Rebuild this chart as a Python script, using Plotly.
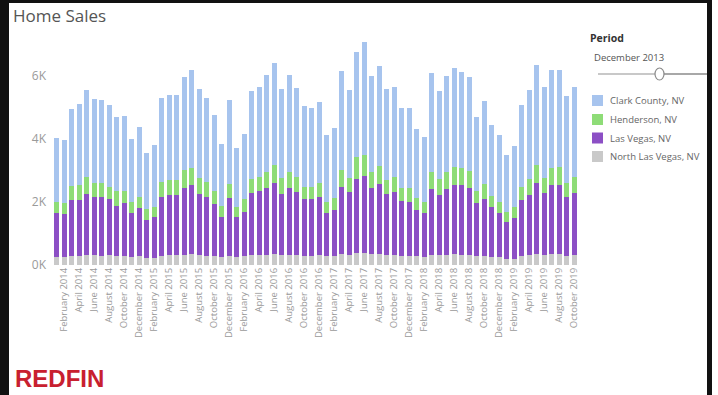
import pandas as pd
import plotly.graph_objects as go

# Monthly home sales, January 2014 - October 2019
months = pd.date_range("2014-01-01", "2019-10-01", freq="MS").strftime("%B %Y").tolist()

north_las_vegas = [250, 250, 300, 300, 320, 310, 300, 310, 280, 290, 260, 280,
                   220, 230, 300, 310, 320, 330, 340, 320, 300, 280, 250, 300,
                   250, 270, 310, 320, 330, 340, 320, 330, 310, 300, 290, 310,
                   270, 270, 360, 320, 380, 380, 340, 350, 310, 310, 280, 280,
                   270, 260, 330, 310, 330, 340, 330, 320, 270, 290, 240, 240,
                   200, 200, 280, 310, 340, 320, 340, 340, 300, 320]

las_vegas = [1410, 1370, 1760, 1760, 1930, 1860, 1850, 1780, 1600, 1670, 1400, 1520,
             1210, 1300, 1870, 1900, 1900, 2100, 2200, 1930, 1870, 1660, 1280, 1830,
             1260, 1420, 1970, 2020, 2100, 2250, 1930, 2100, 1990, 1790, 1800, 1840,
             1390, 1480, 2130, 1980, 2350, 2450, 2110, 2220, 1930, 2000, 1760, 1730,
             1480, 1400, 2080, 1910, 2090, 2200, 2210, 2110, 1690, 1800, 1610, 1420,
             1170, 1280, 1780, 1910, 2270, 1960, 2200, 2200, 1870, 1960]

henderson = [350, 350, 450, 480, 550, 440, 440, 400, 470, 400, 350, 370,
             340, 320, 470, 490, 480, 590, 530, 500, 470, 420, 340, 450,
             340, 400, 440, 460, 530, 580, 500, 530, 500, 400, 380, 440,
             350, 370, 530, 450, 710, 660, 510, 570, 460, 490, 390, 440,
             370, 350, 550, 500, 540, 570, 530, 560, 400, 480, 340, 350,
             320, 370, 410, 500, 560, 470, 530, 560, 420, 520]

clark_county = [2030, 2000, 2440, 2560, 2760, 2660, 2630, 2570, 2330, 2370, 1990, 2220,
                1780, 1950, 2650, 2690, 2690, 2930, 3100, 2830, 2650, 2400, 1970, 2650,
                1850, 2070, 2800, 2840, 3070, 3250, 2830, 3070, 2830, 2560, 2520, 2590,
                2110, 2210, 3120, 2810, 3330, 3570, 3050, 3160, 2880, 2860, 2560, 2540,
                2190, 2040, 3130, 2800, 3050, 3130, 3050, 2970, 2350, 2640, 2240, 2110,
                1800, 1910, 2610, 2840, 3180, 2910, 3120, 3090, 2780, 2840]

series_names = ["Clark County, NV", "Henderson, NV", "Las Vegas, NV", "North Las Vegas, NV"]
series_colors = ["#A7C4EE", "#8EDC77", "#8C4FC5", "#C9C9C9"]

y_tick_vals = [0, 2000, 4000, 6000]
y_tick_text = ["0K", "2K", "4K", "6K"]
x_tick_vals = months[1::2]

W, H = 718, 395
ML, MR, MT, MB = 53, 140, 38, 130
PW, PH = W - ML - MR, H - MT - MB


def px(x):
    return (x - ML) / PW


def py(y):
    return (H - MB - y) / PH


FONT = "Open Sans, Noto Sans, sans-serif"

fig = go.Figure()
# stacked from the bottom up
stack = [(series_names[3], north_las_vegas, series_colors[3]),
         (series_names[2], las_vegas, series_colors[2]),
         (series_names[1], henderson, series_colors[1]),
         (series_names[0], clark_county, series_colors[0])]
for name, vals, color in stack:
    fig.add_trace(go.Bar(x=months, y=vals, name=name,
                         marker=dict(color=color, line=dict(width=0)),
                         showlegend=False))

shapes = []
annotations = []

# frame
black = "#111111"
for x0, y0, x1, y1 in [(0, 0, 9, H), (0, 0, 712, 3), (707, 0, 712, H)]:
    shapes.append(dict(type="rect", xref="paper", yref="paper",
                       x0=px(x0), x1=px(x1), y0=py(y1), y1=py(y0),
                       fillcolor=black, line=dict(width=0), layer="above"))

# period slider
slider_y = 74
shapes.append(dict(type="line", xref="paper", yref="paper",
                   x0=px(598), x1=px(656), y0=py(slider_y), y1=py(slider_y),
                   line=dict(color="#C8C8C8", width=2)))
shapes.append(dict(type="line", xref="paper", yref="paper",
                   x0=px(663), x1=px(707), y0=py(slider_y), y1=py(slider_y),
                   line=dict(color="#A8A8A8", width=2)))
shapes.append(dict(type="circle", xref="paper", yref="paper",
                   x0=px(655), x1=px(664), y0=py(slider_y + 6), y1=py(slider_y - 6),
                   fillcolor="white", line=dict(color="#8A8A8A", width=1.2)))

# legend
legend_y = [100.5, 119.5, 138, 156.5]
for name, color, ly in zip(series_names, series_colors, legend_y):
    shapes.append(dict(type="rect", xref="paper", yref="paper",
                       x0=px(592), x1=px(603), y0=py(ly + 5.5), y1=py(ly - 5.5),
                       fillcolor=color, line=dict(width=0)))
    annotations.append(dict(text=name, xref="paper", yref="paper",
                            x=px(608), y=py(ly), xanchor="left", yanchor="middle",
                            showarrow=False, font=dict(family=FONT, size=9.5, color="#666666")))

annotations += [
    dict(text="Home Sales", xref="paper", yref="paper", x=px(11), y=py(16),
         xanchor="left", yanchor="middle", showarrow=False,
         font=dict(family=FONT, size=17, color="#555555")),
    dict(text="<b>Period</b>", xref="paper", yref="paper", x=px(588), y=py(38),
         xanchor="left", yanchor="middle", showarrow=False,
         font=dict(family=FONT, size=10.5, color="#333333")),
    dict(text="December 2013", xref="paper", yref="paper", x=px(592), y=py(57),
         xanchor="left", yanchor="middle", showarrow=False,
         font=dict(family=FONT, size=9.5, color="#555555")),
    dict(text="<b>REDFIN</b>", xref="paper", yref="paper", x=px(13), y=py(378),
         xanchor="left", yanchor="middle", showarrow=False,
         font=dict(family="Liberation Sans, Arial, sans-serif", size=24, color="#C8202F")),
]

fig.update_layout(
    width=W, height=H, autosize=False,
    margin=dict(l=ML, r=MR, t=MT, b=MB),
    paper_bgcolor="white", plot_bgcolor="white",
    barmode="stack", bargap=0.3,
    shapes=shapes, annotations=annotations,
    xaxis=dict(type="category", tickmode="array", tickvals=x_tick_vals, ticktext=x_tick_vals,
               tickangle=-90, showgrid=False, showline=False, zeroline=False, ticks="",
               tickfont=dict(family=FONT, size=9.5, color="#9A9A9A"),
               range=[-0.5, len(months) - 0.5]),
    yaxis=dict(range=[0, 7200], tickmode="array", tickvals=y_tick_vals, ticktext=y_tick_text,
               showgrid=False, showline=False, zeroline=False, ticks="",
               ticklabelstandoff=6,
               tickfont=dict(family=FONT, size=12, color="#9A9A9A")),
)

fig.write_html("out.html")
